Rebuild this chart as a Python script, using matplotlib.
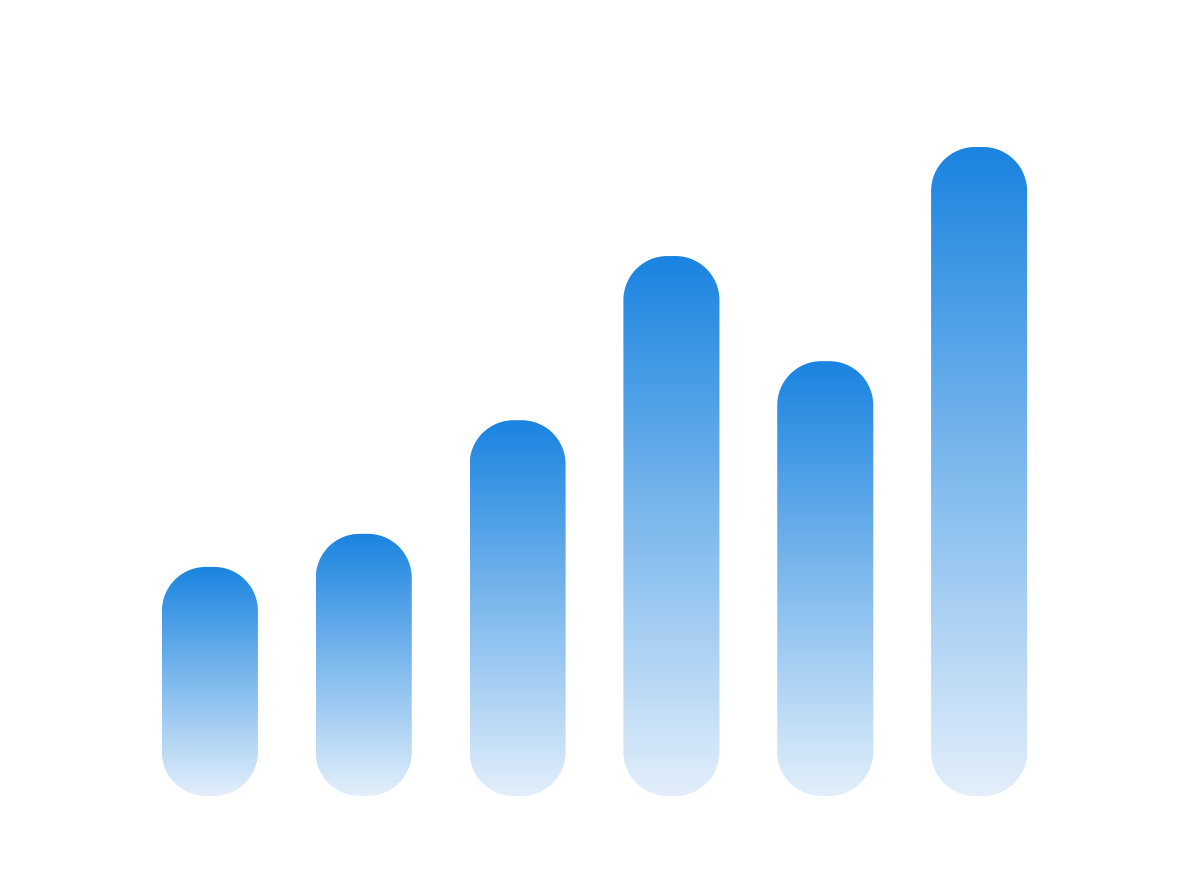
import numpy as np
import matplotlib
matplotlib.use('Agg')
import matplotlib.pyplot as plt
from matplotlib.patches import PathPatch
from matplotlib.path import Path
from matplotlib.transforms import Affine2D
from matplotlib.colors import LinearSegmentedColormap

categories = ['A', 'B', 'C', 'D', 'E', 'F']
values = [35.3, 40.4, 57.9, 83.2, 67.0, 100.0]

top_color = '#1a84e0'
bottom_color = '#e3effb'
cmap = LinearSegmentedColormap.from_list('bar_grad', [bottom_color, top_color])

fig = plt.figure(figsize=(11.88, 8.8), dpi=100)
ax = fig.add_axes([133 / 1188, 1 - 796 / 880, 923 / 1188, 649 / 880])
ax.set_xlim(-0.5, len(categories) - 0.5)
ax.set_ylim(0, 100)
ax.axis('off')

bar_w = 96 / 153.8
px_x = 923 / 6      # pixels per x unit
px_y = 649 / 100    # pixels per y unit
radius_px = 44
rx = radius_px / px_x
ry = radius_px / px_y


def rounded_bar(x0, w, h):
    # circular corners in pixel space -> elliptical in data space
    corners = [(x0 + w - rx, ry, -90, 0),
               (x0 + w - rx, h - ry, 0, 90),
               (x0 + rx, h - ry, 90, 180),
               (x0 + rx, ry, 180, 270)]
    verts, codes = [], []
    for k, (cx, cy, t1, t2) in enumerate(corners):
        arc = Path.arc(t1, t2)
        arc = arc.transformed(Affine2D().scale(rx, ry).translate(cx, cy))
        c = arc.codes.copy()
        if k > 0:
            c[0] = Path.LINETO
        verts.append(arc.vertices)
        codes.append(c)
    verts.append(verts[0][:1])
    codes.append(np.array([Path.CLOSEPOLY]))
    return Path(np.vstack(verts), np.concatenate(codes))


grad = np.linspace(0, 1, 256).reshape(-1, 1)
for i, v in enumerate(values):
    x0 = i - bar_w / 2
    patch = PathPatch(rounded_bar(x0, bar_w, v), facecolor='none',
                      edgecolor='none', transform=ax.transData)
    ax.add_patch(patch)
    im = ax.imshow(grad, extent=(x0, x0 + bar_w, 0, v), origin='lower',
                   cmap=cmap, aspect='auto', interpolation='bilinear')
    im.set_clip_path(patch)

ax.set_xlim(-0.5, len(categories) - 0.5)
ax.set_ylim(0, 100)

fig.savefig('out.png', dpi=100)
